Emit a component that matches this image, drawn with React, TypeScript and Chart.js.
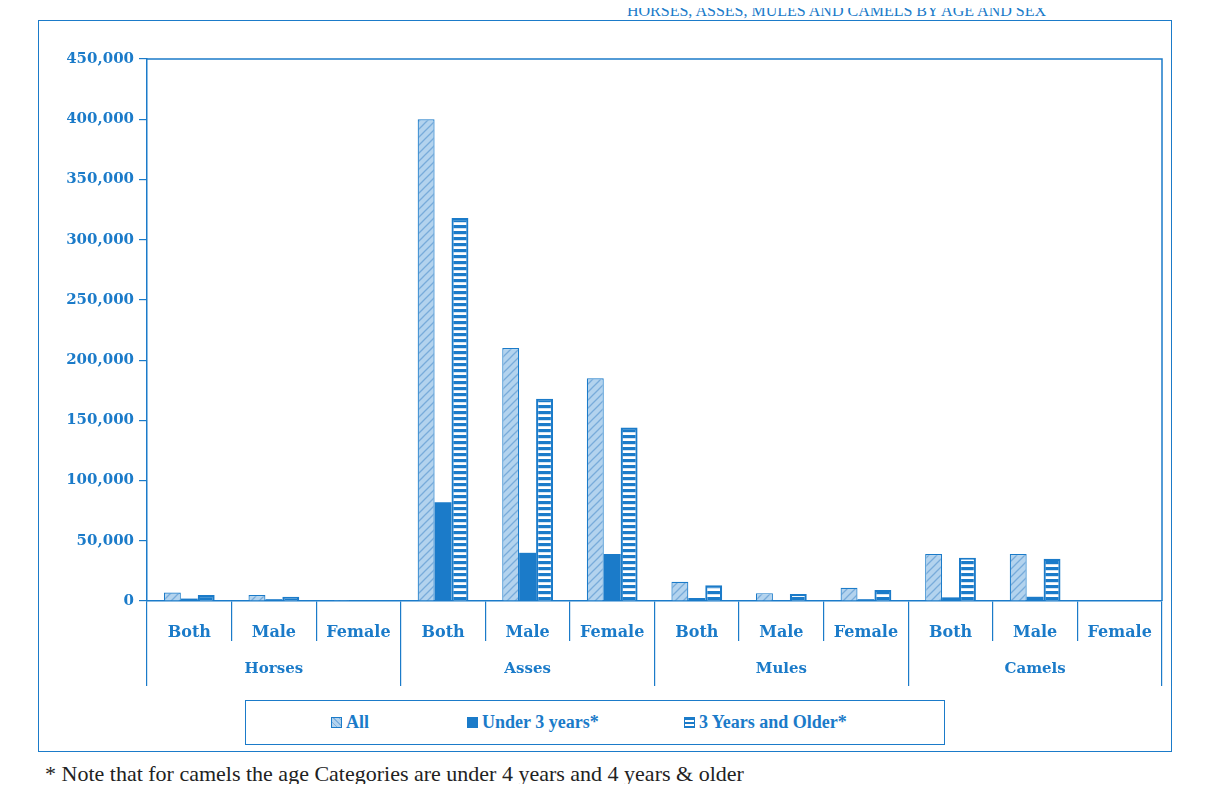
import React, { useEffect, useRef } from 'react';
import { Chart, registerables } from 'chart.js';

Chart.register(...registerables);

// ---- data ----
const groupLabels = ['Horses', 'Asses', 'Mules', 'Camels'];
const subLabels = ['Both', 'Male', 'Female', 'Both', 'Male', 'Female', 'Both', 'Male', 'Female', 'Both', 'Male', 'Female'];
const categoryKeys = [
  'Horses Both', 'Horses Male', 'Horses Female',
  'Asses Both', 'Asses Male', 'Asses Female',
  'Mules Both', 'Mules Male', 'Mules Female',
  'Camels Both', 'Camels Male', 'Camels Female',
];
const allValues = [7000, 5000, 800, 400000, 210000, 185000, 16000, 6500, 11000, 39000, 39000, 0];
const under3Values = [2000, 1500, 300, 82000, 40000, 39000, 2500, 800, 1500, 3000, 3500, 0];
const olderValues = [5000, 3500, 500, 318000, 168000, 144000, 13000, 5800, 9200, 36000, 35000, 0];
const seriesNames = ['All', 'Under 3 years*', '3 Years and Older*'];
const yMin = 0;
const yMax = 450000;
const yStep = 50000;
const titleText = 'HORSES, ASSES, MULES AND CAMELS BY AGE AND SEX';
const noteText = '* Note that for camels the age Categories are under 4 years and 4 years & older';

const BLUE = '#1b7bc9';
const LIGHT = '#b3d3ee';

function makeHatch(): CanvasPattern | string {
  const c = document.createElement('canvas');
  c.width = 8; c.height = 8;
  const g = c.getContext('2d');
  if (!g) return LIGHT;
  g.fillStyle = LIGHT;
  g.fillRect(0, 0, 8, 8);
  g.strokeStyle = 'rgba(80,145,205,0.6)';
  g.lineWidth = 1.3;
  g.beginPath();
  g.moveTo(0, 8); g.lineTo(8, 0);
  g.moveTo(-2, 2); g.lineTo(2, -2);
  g.moveTo(6, 10); g.lineTo(10, 6);
  g.stroke();
  return g.createPattern(c, 'repeat') || LIGHT;
}

function makeStripes(): CanvasPattern | string {
  const c = document.createElement('canvas');
  c.width = 4; c.height = 6;
  const g = c.getContext('2d');
  if (!g) return '#fff';
  g.fillStyle = '#ffffff';
  g.fillRect(0, 0, 4, 6);
  g.fillStyle = BLUE;
  g.fillRect(0, 0, 4, 3.2);
  return g.createPattern(c, 'repeat') || '#fff';
}

const plotFrame = {
  id: 'plotFrame',
  afterDraw(chart: any) {
    const { ctx, chartArea } = chart;
    const { left, right, top, bottom } = chartArea;
    ctx.save();
    ctx.strokeStyle = BLUE;
    ctx.lineWidth = 1.5;
    ctx.beginPath();
    ctx.moveTo(left, top);
    ctx.lineTo(right, top);
    ctx.lineTo(right, bottom);
    ctx.stroke();
    ctx.restore();
  },
};

const tickFont = { family: '"DejaVu Serif", serif', weight: 'bold' as const, size: 15 };

export default function App() {
  const canvasRef = useRef<HTMLCanvasElement | null>(null);

  useEffect(() => {
    if (!canvasRef.current) return;
    const hatch = makeHatch();
    const stripes = makeStripes();
    const chart = new Chart(canvasRef.current, {
      type: 'bar',
      data: {
        labels: categoryKeys,
        datasets: [
          { label: seriesNames[0], data: allValues, backgroundColor: hatch as any, borderColor: BLUE, borderWidth: 1.2 },
          { label: seriesNames[1], data: under3Values, backgroundColor: BLUE, borderColor: BLUE, borderWidth: 0 },
          { label: seriesNames[2], data: olderValues, backgroundColor: stripes as any, borderColor: BLUE, borderWidth: 2.2 },
        ],
      },
      options: {
        animation: false,
        responsive: true,
        maintainAspectRatio: false,
        datasets: { bar: { categoryPercentage: 0.6, barPercentage: 1.0 } },
        layout: { padding: { left: 28, top: 38, right: 8, bottom: 61 } },
        plugins: {
          legend: { display: false },
          tooltip: { enabled: false },
          title: { display: false },
        },
        scales: {
          x: {
            type: 'category',
            position: 'bottom',
            weight: 0,
            offset: true,
            grid: { display: true, offset: true, drawOnChartArea: false, drawTicks: true, tickLength: 40, color: BLUE, lineWidth: 1.2 },
            border: { display: true, color: BLUE, width: 1.5 },
            ticks: {
              autoSkip: false,
              maxRotation: 0,
              minRotation: 0,
              padding: -18,
              color: BLUE,
              font: { ...tickFont, size: 16 },
              callback: (_v: any, i: number) => subLabels[i],
            },
            afterFit: (scale: any) => { scale.height = 40; },
          },
          x2: {
            type: 'category',
            position: 'bottom',
            weight: 1,
            labels: groupLabels,
            offset: true,
            grid: { display: true, offset: true, drawOnChartArea: false, drawTicks: true, tickLength: 45, color: BLUE, lineWidth: 1.2 },
            border: { display: false },
            ticks: {
              autoSkip: false,
              maxRotation: 0,
              minRotation: 0,
              padding: -26,
              color: BLUE,
              font: { ...tickFont, size: 15 },
            },
            afterFit: (scale: any) => { scale.height = 48; },
          },
          y: {
            type: 'linear',
            min: yMin,
            max: yMax,
            grid: { display: true, drawOnChartArea: false, drawTicks: true, tickLength: 8, color: BLUE, lineWidth: 1.2 },
            border: { display: true, color: BLUE, width: 1.5 },
            ticks: {
              stepSize: yStep,
              padding: 5,
              color: BLUE,
              font: tickFont,
              callback: (v: any) => Number(v).toLocaleString('en-US'),
            },
            afterFit: (scale: any) => { scale.width = 80; },
          },
        },
      } as any,
      plugins: [plotFrame],
    });
    return () => chart.destroy();
  }, []);

  const legendFont: React.CSSProperties = {
    fontFamily: '"Liberation Serif", "Times New Roman", serif',
    fontWeight: 'bold',
    fontSize: 18,
    color: BLUE,
    whiteSpace: 'nowrap',
  };
  const swatchBase: React.CSSProperties = {
    display: 'inline-block',
    width: 11,
    height: 11,
    boxSizing: 'border-box',
    marginRight: 4,
    verticalAlign: 'middle',
  };
  const swatches: React.CSSProperties[] = [
    { ...swatchBase, border: `1px solid ${BLUE}`, background: `repeating-linear-gradient(45deg, ${LIGHT} 0 3px, #7fb1df 3px 4px)` },
    { ...swatchBase, background: BLUE },
    { ...swatchBase, border: `1.5px solid ${BLUE}`, background: `repeating-linear-gradient(to bottom, ${BLUE} 0 2px, #fff 2px 4px)` },
  ];
  const legendLeft = [85, 221, 438];

  return (
    <div style={{ position: 'relative', width: 1190, height: 776, overflow: 'visible' }}>
      <div
        style={{
          position: 'absolute', left: 0, top: -5, width: 1038, textAlign: 'right',
          fontFamily: '"Liberation Serif", "Times New Roman", serif', fontSize: 16, lineHeight: '16px',
          color: BLUE, whiteSpace: 'nowrap',
        }}
      >
        {titleText}
      </div>
      <div
        style={{
          position: 'absolute', left: 30, top: 12, width: 1134, height: 732,
          border: `1.5px solid ${BLUE}`, boxSizing: 'border-box',
        }}
      >
        <div style={{ position: 'absolute', left: 0, top: 0, width: 1131, height: 729 }}>
          <canvas ref={canvasRef} />
        </div>
      </div>
      <div
        style={{
          position: 'absolute', left: 237, top: 692, width: 700, height: 45,
          border: `1.5px solid ${BLUE}`, boxSizing: 'border-box', background: '#fff',
        }}
      >
        {seriesNames.map((name, i) => (
          <div key={name} style={{ position: 'absolute', left: legendLeft[i], top: 10, ...legendFont }}>
            <span style={swatches[i]} />
            <span style={{ verticalAlign: 'middle' }}>{name}</span>
          </div>
        ))}
      </div>
      <div
        style={{
          position: 'absolute', left: 37, top: 753,
          fontFamily: '"Liberation Serif", "Times New Roman", serif', fontSize: 22, color: '#222',
          whiteSpace: 'nowrap',
        }}
      >
        {noteText}
      </div>
    </div>
  );
}
